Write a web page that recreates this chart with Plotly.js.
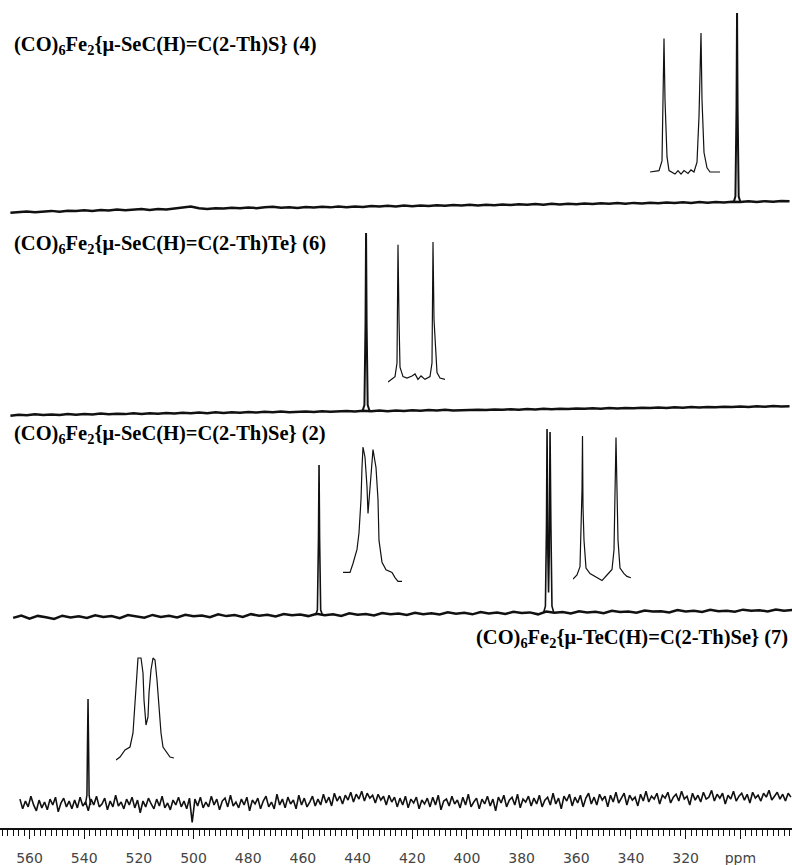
<!DOCTYPE html>
<html>
<head>
<meta charset="utf-8">
<script src="https://cdn.plot.ly/plotly-3.0.1.min.js"></script>
<style>html,body{margin:0;padding:0;background:#fff}#chart{width:792px;height:865px}</style>
</head>
<body>
<div id="chart"></div>
<script>
// ---------------- DATA ----------------
const labels = [
  "(CO)<sub>6</sub>Fe<sub>2</sub>{μ-SeC(H)=C(2-Th)S} (4)",
  "(CO)<sub>6</sub>Fe<sub>2</sub>{μ-SeC(H)=C(2-Th)Te} (6)",
  "(CO)<sub>6</sub>Fe<sub>2</sub>{μ-SeC(H)=C(2-Th)Se} (2)",
  "(CO)<sub>6</sub>Fe<sub>2</sub>{μ-TeC(H)=C(2-Th)Se} (7)"
];
const tickVals = [560, 540, 520, 500, 480, 460, 440, 420, 400, 380, 360, 340, 320, 300];
const tickText = ["560", "540", "520", "500", "480", "460", "440", "420", "400", "380", "360", "340", "320", "ppm"];

// baselines: start ppm and step (ppm)
const base4Start = 567, base4Step = -3;
const base4 = [-0.035,-0.03,-0.028,-0.032,-0.027,-0.025,-0.029,-0.024,-0.026,-0.022,
  -0.025,-0.02,-0.023,-0.018,-0.022,-0.019,-0.016,-0.02,-0.015,-0.018,
  -0.014,-0.01,-0.003,-0.012,-0.015,-0.011,-0.013,-0.009,-0.012,-0.008,
  -0.011,-0.006,-0.004,-0.009,-0.007,-0.01,-0.005,-0.008,-0.004,-0.007,
  -0.003,-0.006,-0.002,-0.005,0.0,-0.003,0.001,-0.002,0.002,-0.001,
  0.003,0.0,0.004,0.001,0.005,0.002,0.006,0.003,0.007,0.004,
  0.008,0.005,0.009,0.006,0.01,0.007,0.011,0.008,0.012,0.009,
  0.013,0.01,0.014,0.011,0.015,0.012,0.016,0.013,0.017,0.014,
  0.018,0.015,0.019,0.016,0.02,0.017,0.021,0.018,0.022,0.02,
  0.024,0.021,0.025,0.022,0.026,0.024];
const peak4X = [302.4, 301.8, 301.4, 301.2, 301.0, 300.6, 300.0];
const peak4Y = [0.02, 0.05, 0.5, 0.99, 0.5, 0.05, 0.02];

const base6Start = 567, base6Step = -3;
const base6 = [-0.024,-0.019,-0.022,-0.017,-0.021,-0.018,-0.02,-0.015,-0.019,-0.016,
  -0.018,-0.013,-0.017,-0.014,-0.016,-0.011,-0.015,-0.012,-0.014,-0.01,
  -0.013,-0.009,-0.012,-0.008,-0.011,-0.007,-0.01,-0.006,-0.009,-0.005,
  -0.008,-0.004,-0.007,-0.003,-0.006,-0.004,-0.002,-0.005,-0.001,-0.004,
  -0.002,0.0,-0.003,0.001,-0.001,0.002,-0.001,0.003,0.0,0.004,
  0.001,0.005,0.002,0.006,0.003,0.005,0.004,0.007,0.005,0.008,
  0.006,0.009,0.007,0.01,0.008,0.011,0.009,0.012,0.01,0.013,
  0.011,0.014,0.012,0.015,0.013,0.016,0.014,0.017,0.015,0.018,
  0.016,0.019,0.017,0.02,0.018,0.021,0.019,0.022,0.02,0.023,
  0.021,0.024,0.022,0.025,0.023,0.024];
const peak6X = [438.2, 437.5, 437.1, 436.9, 436.7, 436.3, 435.6];
const peak6Y = [0.0, 0.03, 0.45, 0.913, 0.45, 0.03, 0.0];

const base2Start = 566, base2Step = -3;
const base2 = [-0.03,-0.018,-0.034,-0.02,-0.027,-0.036,-0.019,-0.028,-0.022,-0.031,
  -0.017,-0.026,-0.021,-0.032,-0.016,-0.024,-0.029,-0.015,-0.025,-0.019,
  -0.028,-0.014,-0.022,-0.018,-0.027,-0.012,-0.021,-0.016,-0.025,-0.011,
  -0.019,-0.014,-0.023,-0.01,-0.017,-0.013,-0.021,-0.009,-0.016,-0.012,
  -0.02,-0.007,-0.014,-0.01,-0.018,-0.005,-0.012,-0.008,-0.015,-0.004,
  -0.011,-0.006,-0.013,-0.002,-0.009,-0.004,-0.012,0.0,-0.007,-0.003,
  -0.01,0.001,-0.005,-0.002,-0.012,0.002,-0.004,0.0,-0.008,0.004,
  -0.002,0.001,-0.006,0.006,0.0,0.003,-0.004,0.008,0.002,0.004,
  -0.002,0.01,0.003,0.006,0.0,0.011,0.004,0.007,0.001,0.012,
  0.006,0.009,0.003,0.013,0.007,0.01];
const peak2aX = [455.4, 454.7, 454.3, 454.1, 453.9, 453.5, 452.8];
const peak2aY = [-0.017, 0.01, 0.38, 0.754, 0.38, 0.01, -0.017];
const peak2bX = [372.0, 371.3, 370.9, 370.7, 370.4, 370.15, 369.9, 369.6, 369.3, 368.9, 368.2];
const peak2bY = [-0.005, 0.03, 0.45, 0.938, 0.3, 0.1, 0.3, 0.923, 0.45, 0.03, -0.005];

const base7Start = 563.5, base7Step = -1;
const base7 = [0.02,-0.03,0.01,-0.02,0.035,-0.01,-0.04,0.015,-0.025,0.005,
  -0.035,0.02,-0.01,0.03,-0.045,0.0,0.025,-0.02,0.01,-0.03,
  0.015,-0.025,0.03,-0.015,0.005,-0.04,0.02,-0.01,0.035,-0.02,
  -0.005,0.025,-0.035,0.01,-0.02,0.04,-0.015,0.005,-0.03,0.02,
  -0.01,0.03,-0.025,0.015,-0.05,0.01,-0.02,0.025,-0.005,-0.03,
  0.02,-0.015,0.035,-0.025,0.0,-0.035,0.015,-0.01,0.03,-0.02,
  0.01,-0.03,0.025,-0.1,0.02,-0.015,0.03,-0.025,0.005,-0.02,
  0.035,-0.01,0.02,-0.035,0.01,0.025,-0.02,0.04,-0.015,0.005,
  -0.025,0.02,-0.01,0.03,-0.04,0.015,-0.005,0.025,-0.03,0.01,
  0.035,-0.02,0.005,-0.03,0.045,-0.01,0.02,-0.025,0.03,-0.005,
  0.015,-0.03,0.04,-0.01,0.025,-0.02,0.005,0.035,-0.015,0.02,
  -0.01,0.045,0.0,0.03,-0.015,0.05,0.01,0.035,-0.005,0.04,
  0.015,0.055,0.005,0.045,0.02,0.06,0.01,0.05,0.025,0.04,
  0.0,0.045,0.015,0.035,-0.01,0.04,0.005,0.03,-0.02,0.025,
  -0.01,0.035,-0.025,0.02,0.0,0.03,-0.03,0.015,-0.005,0.025,
  -0.02,0.03,-0.01,0.04,-0.035,0.01,0.02,-0.015,0.035,-0.005,
  0.015,-0.025,0.03,-0.01,0.045,-0.02,0.005,0.025,-0.03,0.02,
  -0.005,0.035,-0.015,0.02,-0.04,0.03,0.0,0.04,-0.02,0.015,
  0.03,-0.01,0.045,-0.025,0.02,0.005,0.035,-0.015,0.025,-0.005,
  0.04,-0.02,0.015,0.03,-0.01,0.05,-0.005,0.025,-0.03,0.035,
  0.01,0.045,-0.015,0.03,0.0,0.04,-0.02,0.025,0.05,-0.005,
  0.03,-0.01,0.045,0.015,0.035,-0.02,0.04,0.005,0.055,0.0,
  0.025,0.05,-0.01,0.04,0.015,0.03,-0.015,0.045,0.01,0.06,
  0.005,0.035,0.02,0.05,-0.005,0.04,0.025,0.055,0.0,0.03,
  0.045,0.01,0.06,0.02,0.035,-0.01,0.05,0.015,0.04,0.005,
  0.055,0.02,0.03,0.065,0.01,0.045,0.025,0.05,-0.005,0.04,
  0.02,0.06,0.01,0.035,0.05,0.015,0.045,0.0,0.055,0.025,
  0.04,0.01,0.05,0.03,0.065,0.015,0.035,0.055,0.02,0.045,
  0.01,0.05,0.03];
const peak7X = [539.6, 539.0, 538.8, 538.6, 538.4, 538.2, 537.6];
const peak7Y = [-0.01, 0.04, 0.3, 0.533, 0.3, 0.04, -0.01];

// expanded insets: offset (Hz) and relative intensity
const ins4X = [-35,-26,-23,-22,-21,-20,-18,-16,-13,-10,-7,-4,-1,3,6,9,12,14,16,17,19,22,25,35];
const ins4Y = [0,0.01,0.08,0.52,0.96,0.52,0.11,0.01,0,-0.015,0.01,-0.015,0.01,-0.01,0.015,0,0.07,0.40,1.0,0.52,0.14,0.03,0,0];
const ins6X = [-28,-21,-19,-18,-17,-16,-13,-9,-4,-1,2,5,9,14,16,17,18,20,21,24,29];
const ins6Y = [-0.03,0.01,0.11,0.98,0.43,0.08,0.01,0,0.015,0.03,-0.01,0.015,-0.01,0.01,0.11,1.0,0.43,0.18,0.04,0,-0.01];
const ins2aX = [-29,-22,-19,-15,-13,-11,-10,-9,-7,-5,-4,-2,0,1,4,6,7,10,14,20,23,26,30];
const ins2aY = [0.02,0.02,0.09,0.2,0.33,0.59,0.84,1.0,0.92,0.69,0.48,0.69,0.9,0.98,0.84,0.59,0.27,0.1,0.04,0.02,-0.02,-0.05,-0.05];
const ins2bX = [-29,-25,-22,-21,-20,-19.5,-19,-18,-16,-12,-7,0,5,10,12,13,14,15,16,18,22,25,29];
const ins2bY = [-0.03,0,0.06,0.27,0.61,1.0,0.49,0.25,0.05,0.01,-0.01,-0.04,0,0.04,0.18,0.49,0.99,0.61,0.25,0.05,0.01,-0.01,-0.02];
const ins7X = [-29,-25,-20,-15,-12,-10,-8,-7,-4,-2,-1,1,3,4,6,8,10,12,14,16,18,22,25,29];
const ins7Y = [-0.02,0.01,0.08,0.11,0.25,0.51,0.85,1.0,1.0,0.85,0.58,0.33,0.41,0.65,0.88,1.0,0.98,0.78,0.51,0.25,0.11,0.05,0.01,0];

// ---------------- LAYOUT GEOMETRY ----------------
const W = 792, PH = 828;     // plot area (margin bottom holds the ruler labels)
const UNIT = 195;            // px per intensity unit
const bases = [206, 411, 612, 803];
function ydom(bottomPx, topPx) { return [(PH - bottomPx) / PH, (PH - topPx) / PH]; }
function specDom(b) { return ydom(b + 0.12 * UNIT, b - 1.0 * UNIT); }
const insetBoxes = [
  {x1: 650, x2: 720, c: 685, b: 172, t: 33},
  {x1: 388, x2: 445, c: 416, b: 378, t: 242},
  {x1: 343, x2: 402, c: 372, b: 575, t: 447},
  {x1: 573, x2: 631, c: 602, b: 575, t: 436},
  {x1: 116, x2: 174, c: 145, b: 758, t: 658}
];
const insetData = [[ins4X, ins4Y], [ins6X, ins6Y], [ins2aX, ins2aY], [ins2bX, ins2bY], [ins7X, ins7Y]];

const black = '#111';
const traces = [];
function spec(y0, dx, ys, yaxis, w) {
  traces.push({type: 'scatter', mode: 'lines', x0: y0, dx: dx, y: ys, xaxis: 'x', yaxis: yaxis,
    line: {color: black, width: w}, hoverinfo: 'skip'});
}
function pk(xs, ys, yaxis, w) {
  traces.push({type: 'scatter', mode: 'lines', x: xs, y: ys, xaxis: 'x', yaxis: yaxis,
    line: {color: black, width: w}, hoverinfo: 'skip'});
}
spec(base4Start, base4Step, base4, 'y', 2.5);  pk(peak4X, peak4Y, 'y', 2.0);
spec(base6Start, base6Step, base6, 'y2', 2.5); pk(peak6X, peak6Y, 'y2', 2.0);
spec(base2Start, base2Step, base2, 'y3', 2.5); pk(peak2aX, peak2aY, 'y3', 1.6); pk(peak2bX, peak2bY, 'y3', 1.6);
spec(base7Start, base7Step, base7, 'y4', 1.6); pk(peak7X, peak7Y, 'y4', 1.5);

const layout = {
  width: W, height: 865,
  margin: {l: 0, r: 0, t: 0, b: 865 - PH},
  paper_bgcolor: '#fff', plot_bgcolor: 'rgba(0,0,0,0)',
  showlegend: false,
  xaxis: {
    range: [570.8, 281.1], anchor: 'free', position: 0,
    showline: true, linecolor: black, linewidth: 1.5, showgrid: false, zeroline: false,
    tickmode: 'array', tickvals: tickVals, ticktext: tickText,
    ticks: 'outside', ticklen: 9, tickwidth: 1, tickcolor: black,
    ticklabelstandoff: 8,
    tickfont: {family: 'DejaVu Sans', size: 14, color: '#444'},
    minor: {tickmode: 'linear', tick0: 0, dtick: 2, ticks: 'outside', ticklen: 6, tickwidth: 1, tickcolor: black, showgrid: false}
  },
  annotations: []
};
const yKeys = ['yaxis', 'yaxis2', 'yaxis3', 'yaxis4'];
bases.forEach((b, i) => {
  layout[yKeys[i]] = {domain: specDom(b), range: [-0.12, 1.0], visible: false, anchor: 'x', fixedrange: true};
});

insetBoxes.forEach((bx, i) => {
  const xn = i + 2, yn = i + 5;
  const h = bx.b - bx.t;
  layout['xaxis' + xn] = {domain: [bx.x1 / W, bx.x2 / W], range: [bx.x1 - bx.c, bx.x2 - bx.c], visible: false, anchor: 'y' + yn};
  layout['yaxis' + yn] = {domain: ydom(bx.b + 0.1 * h, bx.t - 0.05 * h), range: [-0.1, 1.05], visible: false, anchor: 'x' + xn};
  traces.push({type: 'scatter', mode: 'lines', x: insetData[i][0], y: insetData[i][1],
    xaxis: 'x' + xn, yaxis: 'y' + yn, line: {color: black, width: 1.2}, hoverinfo: 'skip'});
});

const labelPos = [
  {x: 12, y: 45, xa: 'left'},
  {x: 12, y: 245, xa: 'left'},
  {x: 12, y: 434, xa: 'left'},
  {x: 790, y: 638, xa: 'right'}
];
labels.forEach((t, i) => {
  const p = labelPos[i];
  layout.annotations.push({
    text: '<b>' + t + '</b>', xref: 'paper', yref: 'paper',
    x: p.x / W, y: (PH - p.y) / PH, xanchor: p.xa, yanchor: 'middle', showarrow: false,
    font: {family: 'Liberation Serif', size: 20.5, color: '#000'}
  });
});

Plotly.newPlot('chart', traces, layout, {staticPlot: true, displayModeBar: false});
</script>
</body>
</html>
